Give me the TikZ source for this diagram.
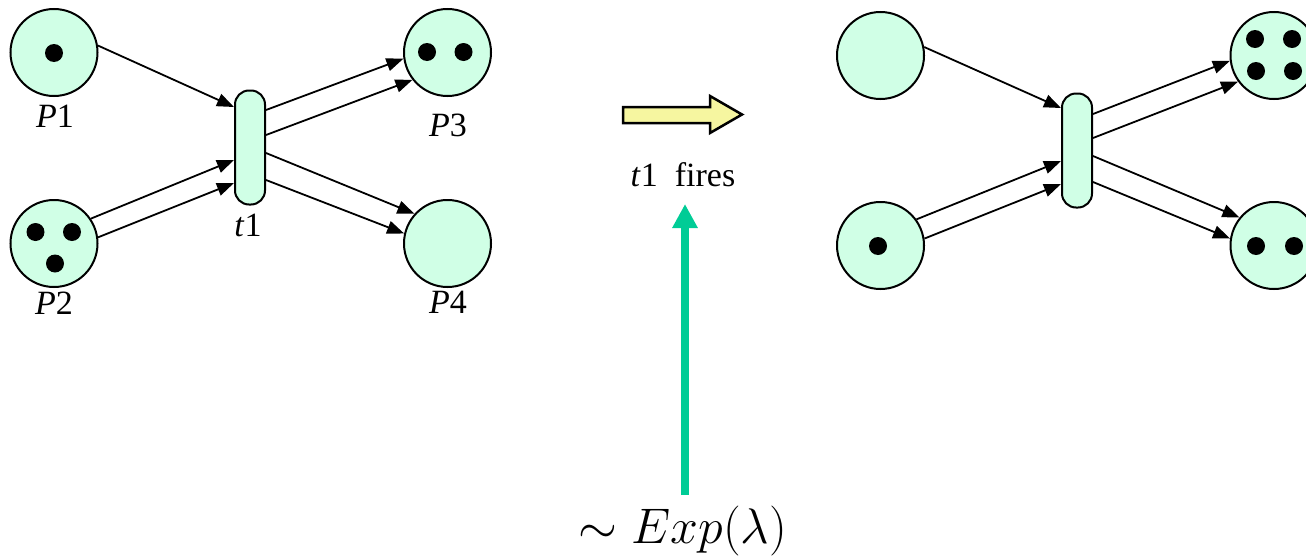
\documentclass[tikz,border=0pt]{standalone}
\usepackage{fix-cm}
\usepackage{fontspec}
\setmainfont{Liberation Serif}
\usetikzlibrary{arrows.meta}
\definecolor{mint}{RGB}{208,255,230}
\definecolor{paleyellow}{RGB}{246,246,160}
\definecolor{tealgreen}{RGB}{0,204,150}
\tikzset{
  place/.style={circle, draw=black, line width=2pt, fill=mint, minimum size=87pt, inner sep=0pt},
  trans/.style={rectangle, rounded corners=14pt, draw=black, line width=2pt, fill=mint, minimum width=30pt, minimum height=114pt, inner sep=0pt},
  token/.style={circle, fill=black, minimum size=18pt, inner sep=0pt},
  arc/.style={line width=1.8pt, -{Triangle[length=17pt,width=13pt]}},
  lbl/.style={anchor=base, inner sep=0pt, font=\fontsize{34}{37}\selectfont},
}
\begin{document}
\begin{tikzpicture}[x=1pt,y=-1pt]
\useasboundingbox (0,0) rectangle (1306,557);
% ---- left net ----
\node[place] (P1) at (54,52.5) {};
\node[place] (P2) at (54,243.5) {};
\node[place] (P3) at (447.5,52.5) {};
\node[place] (P4) at (447.5,243.5) {};
\node[trans] (t1) at (250,147.5) {};
\node[token] (k11) at (54,53) {};
\node[token] (k21) at (35.5,232) {};
\node[token] (k22) at (72,232) {};
\node[token] (k23) at (55,263.5) {};
\node[token] (k31) at (427,52) {};
\node[token] (k32) at (463.5,52) {};
\node[lbl] (lP1) at (55,127.5) {\textit{P}1};
\node[lbl] (lP2) at (54,314.5) {\textit{P}2};
\node[lbl] (lP3) at (448,136) {\textit{P}3};
\node[lbl] (lP4) at (448,313) {\textit{P}4};
\node[lbl] (lt1) at (248,236.5) {\textit{t}1};
\draw[arc] (P1.9) -- ([yshift=40.5pt]t1.west);
\draw[arc] (P2.34) -- ([yshift=-12.5pt]t1.west);
\draw[arc] (P2.8) -- ([yshift=-35.5pt]t1.west);
\draw[arc] ([yshift=37.5pt]t1.east) -- (P3.188);
\draw[arc] ([yshift=12.5pt]t1.east) -- (P3.218);
\draw[arc] ([yshift=-5.5pt]t1.east) -- (P4.138.5);
\draw[arc] ([yshift=-32.5pt]t1.east) -- (P4.167);
% ---- middle ----
\draw[line width=2.5pt, line join=miter, fill=paleyellow]
  (623,107) -- (710,107) -- (710,96) -- (742,114.5) -- (710,133) -- (710,123) -- (623,123) -- cycle;
\node[lbl] (fires) at (683,186) {\textit{t}1\hspace{0.5em}fires};
\coordinate (gstart) at (685,495);
\coordinate (gtip) at (685,204);
\draw[line width=8pt, tealgreen, -{Triangle[length=24pt,width=24pt]}] (gstart) -- (gtip);
\node[anchor=base, inner sep=0pt, font=\fontsize{50}{52}\selectfont] (exp) at (683,543) {$\sim Exp(\lambda)$};
% ---- right net ----
\node[place] (Q1) at (880.5,55.5) {};
\node[place] (Q2) at (880.5,245.5) {};
\node[place] (Q3) at (1274,55.5) {};
\node[place] (Q4) at (1274,245.5) {};
\node[trans] (t2) at (1077,150.5) {};
\node[token] (m21) at (878,246) {};
\node[token] (m31) at (1255,39) {};
\node[token] (m32) at (1292,39) {};
\node[token] (m33) at (1256,71) {};
\node[token] (m34) at (1293,71) {};
\node[token] (m41) at (1256,246) {};
\node[token] (m42) at (1294,246) {};
\draw[arc] (Q1.11) -- ([yshift=42.5pt]t2.west);
\draw[arc] (Q2.36) -- ([yshift=-10.5pt]t2.west);
\draw[arc] (Q2.9) -- ([yshift=-33.5pt]t2.west);
\draw[arc] ([yshift=36.5pt]t2.east) -- (Q3.187);
\draw[arc] ([yshift=12.5pt]t2.east) -- (Q3.216);
\draw[arc] ([yshift=-5.5pt]t2.east) -- (Q4.141);
\draw[arc] ([yshift=-31.5pt]t2.east) -- (Q4.171);
\end{tikzpicture}
\end{document}
